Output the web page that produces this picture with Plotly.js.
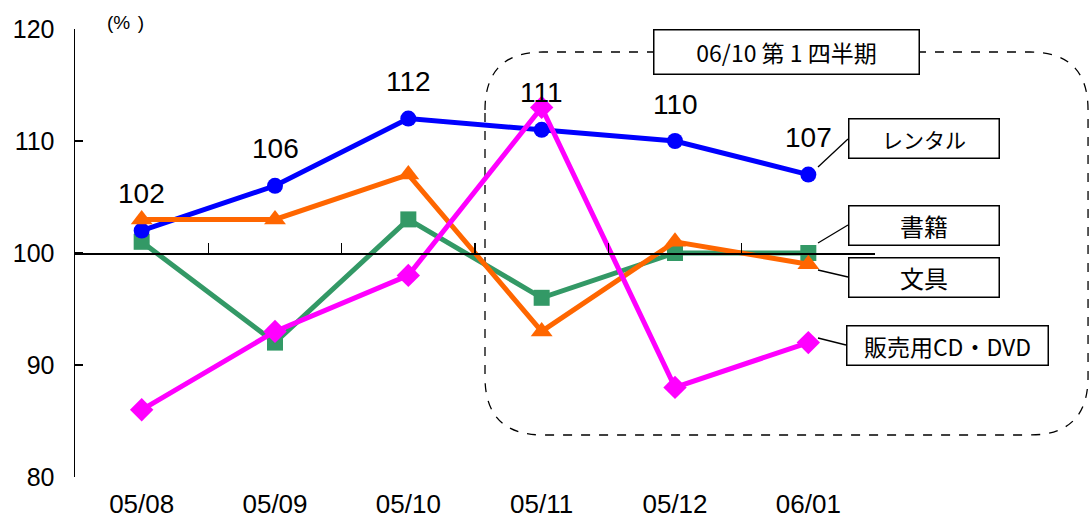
<!DOCTYPE html>
<html>
<head>
<meta charset="utf-8">
<script src="https://cdn.plot.ly/plotly-3.0.1.min.js"></script>
<style>html,body{margin:0;padding:0;background:#fff;}#chart{width:1090px;height:519px;}</style>
</head>
<body>
<div id="chart"></div>
<script>
const categories = ['05/08', '05/09', '05/10', '05/11', '05/12', '06/01'];
const rental = [102, 106, 112, 111, 110, 107];
const books = [101, 92, 103, 96, 100, 100];
const stationery = [103, 103, 107, 93, 101, 99];
const cdDvd = [86, 93, 98, 113, 88, 92];
const yTicks = [80, 90, 100, 110, 120];
const seriesNames = ['レンタル', '書籍', '文具', '販売用CD・DVD'];
const periodLabel = '06/10 第 1 四半期';
const unitLabel = '(%\u2009\u2009)';

const W = 1090, H = 519;
const M = {l: 75, r: 215, t: 29, b: 42};
const PW = W - M.l - M.r, PH = H - M.t - M.b;
const px = x => (x - M.l) / PW;
const py = y => (H - M.b - y) / PH;
const P = (x, y) => px(x).toFixed(4) + ',' + py(y).toFixed(4);

const xIdx = categories.map((_, i) => i);
const FONT = 'Liberation Sans, Arial, Noto Sans CJK JP, sans-serif';
const JFONT = 'Noto Sans CJK JP, Liberation Sans, sans-serif';

function tr(name, y, color, symbol, size) {
  return {
    type: 'scatter', mode: 'lines+markers', name: name,
    x: xIdx, y: y,
    line: {color: color, width: 5},
    marker: {color: color, symbol: symbol, size: size},
    hoverinfo: 'skip', showlegend: false
  };
}

const traces = [
  tr(seriesNames[1], books, '#339966', 'square', 16),
  tr(seriesNames[0], rental, '#0000FF', 'circle', 16),
  tr(seriesNames[2], stationery, '#FF6600', 'triangle-up', 19),
  tr(seriesNames[3], cdDvd, '#FF00FF', 'diamond', 18),
  {type: 'scatter', x: [], y: [], xaxis: 'x2', yaxis: 'y', showlegend: false, hoverinfo: 'skip'}
];

// rounded dashed region
const L = 485, R = 1088, T = 52, B = 435, r = 58;
const regionPath = 'M ' + P(L, T + r) +
  ' Q ' + P(L, T) + ' ' + P(L + r, T) +
  ' L ' + P(R - r, T) +
  ' Q ' + P(R, T) + ' ' + P(R, T + r) +
  ' L ' + P(R, B - r) +
  ' Q ' + P(R, B) + ' ' + P(R - r, B) +
  ' L ' + P(L + r, B) +
  ' Q ' + P(L, B) + ' ' + P(L, B - r) + ' Z';

const shapes = [
  {type: 'path', xref: 'paper', yref: 'paper', path: regionPath,
   line: {color: '#000', width: 1.3, dash: 'dash'}, layer: 'below'},
  {type: 'line', xref: 'paper', yref: 'paper', x0: px(818), y0: py(167), x1: px(848), y1: py(139), line: {color: '#000', width: 1.3}},
  {type: 'line', xref: 'paper', yref: 'paper', x0: px(818), y0: py(243), x1: px(848), y1: py(225), line: {color: '#000', width: 1.3}},
  {type: 'line', xref: 'paper', yref: 'paper', x0: px(818), y0: py(270), x1: px(848), y1: py(277), line: {color: '#000', width: 1.3}},
  {type: 'line', xref: 'paper', yref: 'paper', x0: px(818), y0: py(338), x1: px(846), y1: py(345), line: {color: '#000', width: 1.3}}
];

function box(text, cx, cy, w, h, size) {
  return {xref: 'paper', yref: 'paper', x: px(cx), y: py(cy), xanchor: 'center', yanchor: 'middle',
    text: text, showarrow: false, width: w, height: h, bgcolor: '#fff',
    bordercolor: '#000', borderwidth: 1.5, borderpad: 0,
    font: {family: JFONT, size: size, color: '#000'}};
}

const annotations = [
  box(periodLabel, 786, 52.5, 264, 43, 23),
  box(seriesNames[0], 923.5, 138, 149, 38, 21),
  box(seriesNames[1], 923.5, 225, 149, 38, 24),
  box(seriesNames[2], 923.5, 277, 149, 38, 24),
  box(seriesNames[3], 947, 345, 200, 38, 23),
  {xref: 'paper', yref: 'paper', x: px(125), y: py(22), text: unitLabel, showarrow: false,
   xanchor: 'center', yanchor: 'middle', font: {family: FONT, size: 19, color: '#000'}}
];
rental.forEach((v, i) => annotations.push({
  x: i, y: v, xref: 'x', yref: 'y', text: String(v), showarrow: false,
  yshift: 37, xanchor: 'center', yanchor: 'middle',
  font: {family: FONT, size: 28, color: '#000'}
}));

const layout = {
  width: W, height: H,
  margin: {l: M.l, r: M.r, t: M.t, b: M.b, pad: 0},
  paper_bgcolor: '#fff', plot_bgcolor: 'rgba(0,0,0,0)',
  font: {family: FONT, color: '#000'},
  showlegend: false,
  xaxis: {
    range: [-0.5, 5.5], tickmode: 'array', tickvals: xIdx, ticktext: categories,
    showline: false, ticks: '', showgrid: false, zeroline: false,
    tickfont: {family: FONT, size: 26, color: '#000'}, ticklabelstandoff: 9
  },
  xaxis2: {
    overlaying: 'x', anchor: 'free', position: (100 - 80) / 40, side: 'bottom',
    range: [-0.5, 5.5], tickmode: 'array', tickvals: [-0.5, 0.5, 1.5, 2.5, 3.5, 4.5, 5.5],
    ticks: 'inside', ticklen: 10, tickwidth: 1.5, tickcolor: '#000',
    showticklabels: false, showline: true, linecolor: '#000', linewidth: 1.5,
    showgrid: false, zeroline: false
  },
  yaxis: {
    range: [80, 120], tickmode: 'array', tickvals: yTicks,
    ticks: 'inside', ticklen: 8, tickwidth: 1.5, tickcolor: '#000',
    showline: true, linecolor: '#000', linewidth: 1.5,
    showgrid: false, zeroline: false,
    tickfont: {family: FONT, size: 25, color: '#000'}, ticklabelstandoff: 14
  },
  shapes: shapes,
  annotations: annotations
};

Plotly.newPlot('chart', traces, layout, {staticPlot: true, displayModeBar: false});
</script>
</body>
</html>
